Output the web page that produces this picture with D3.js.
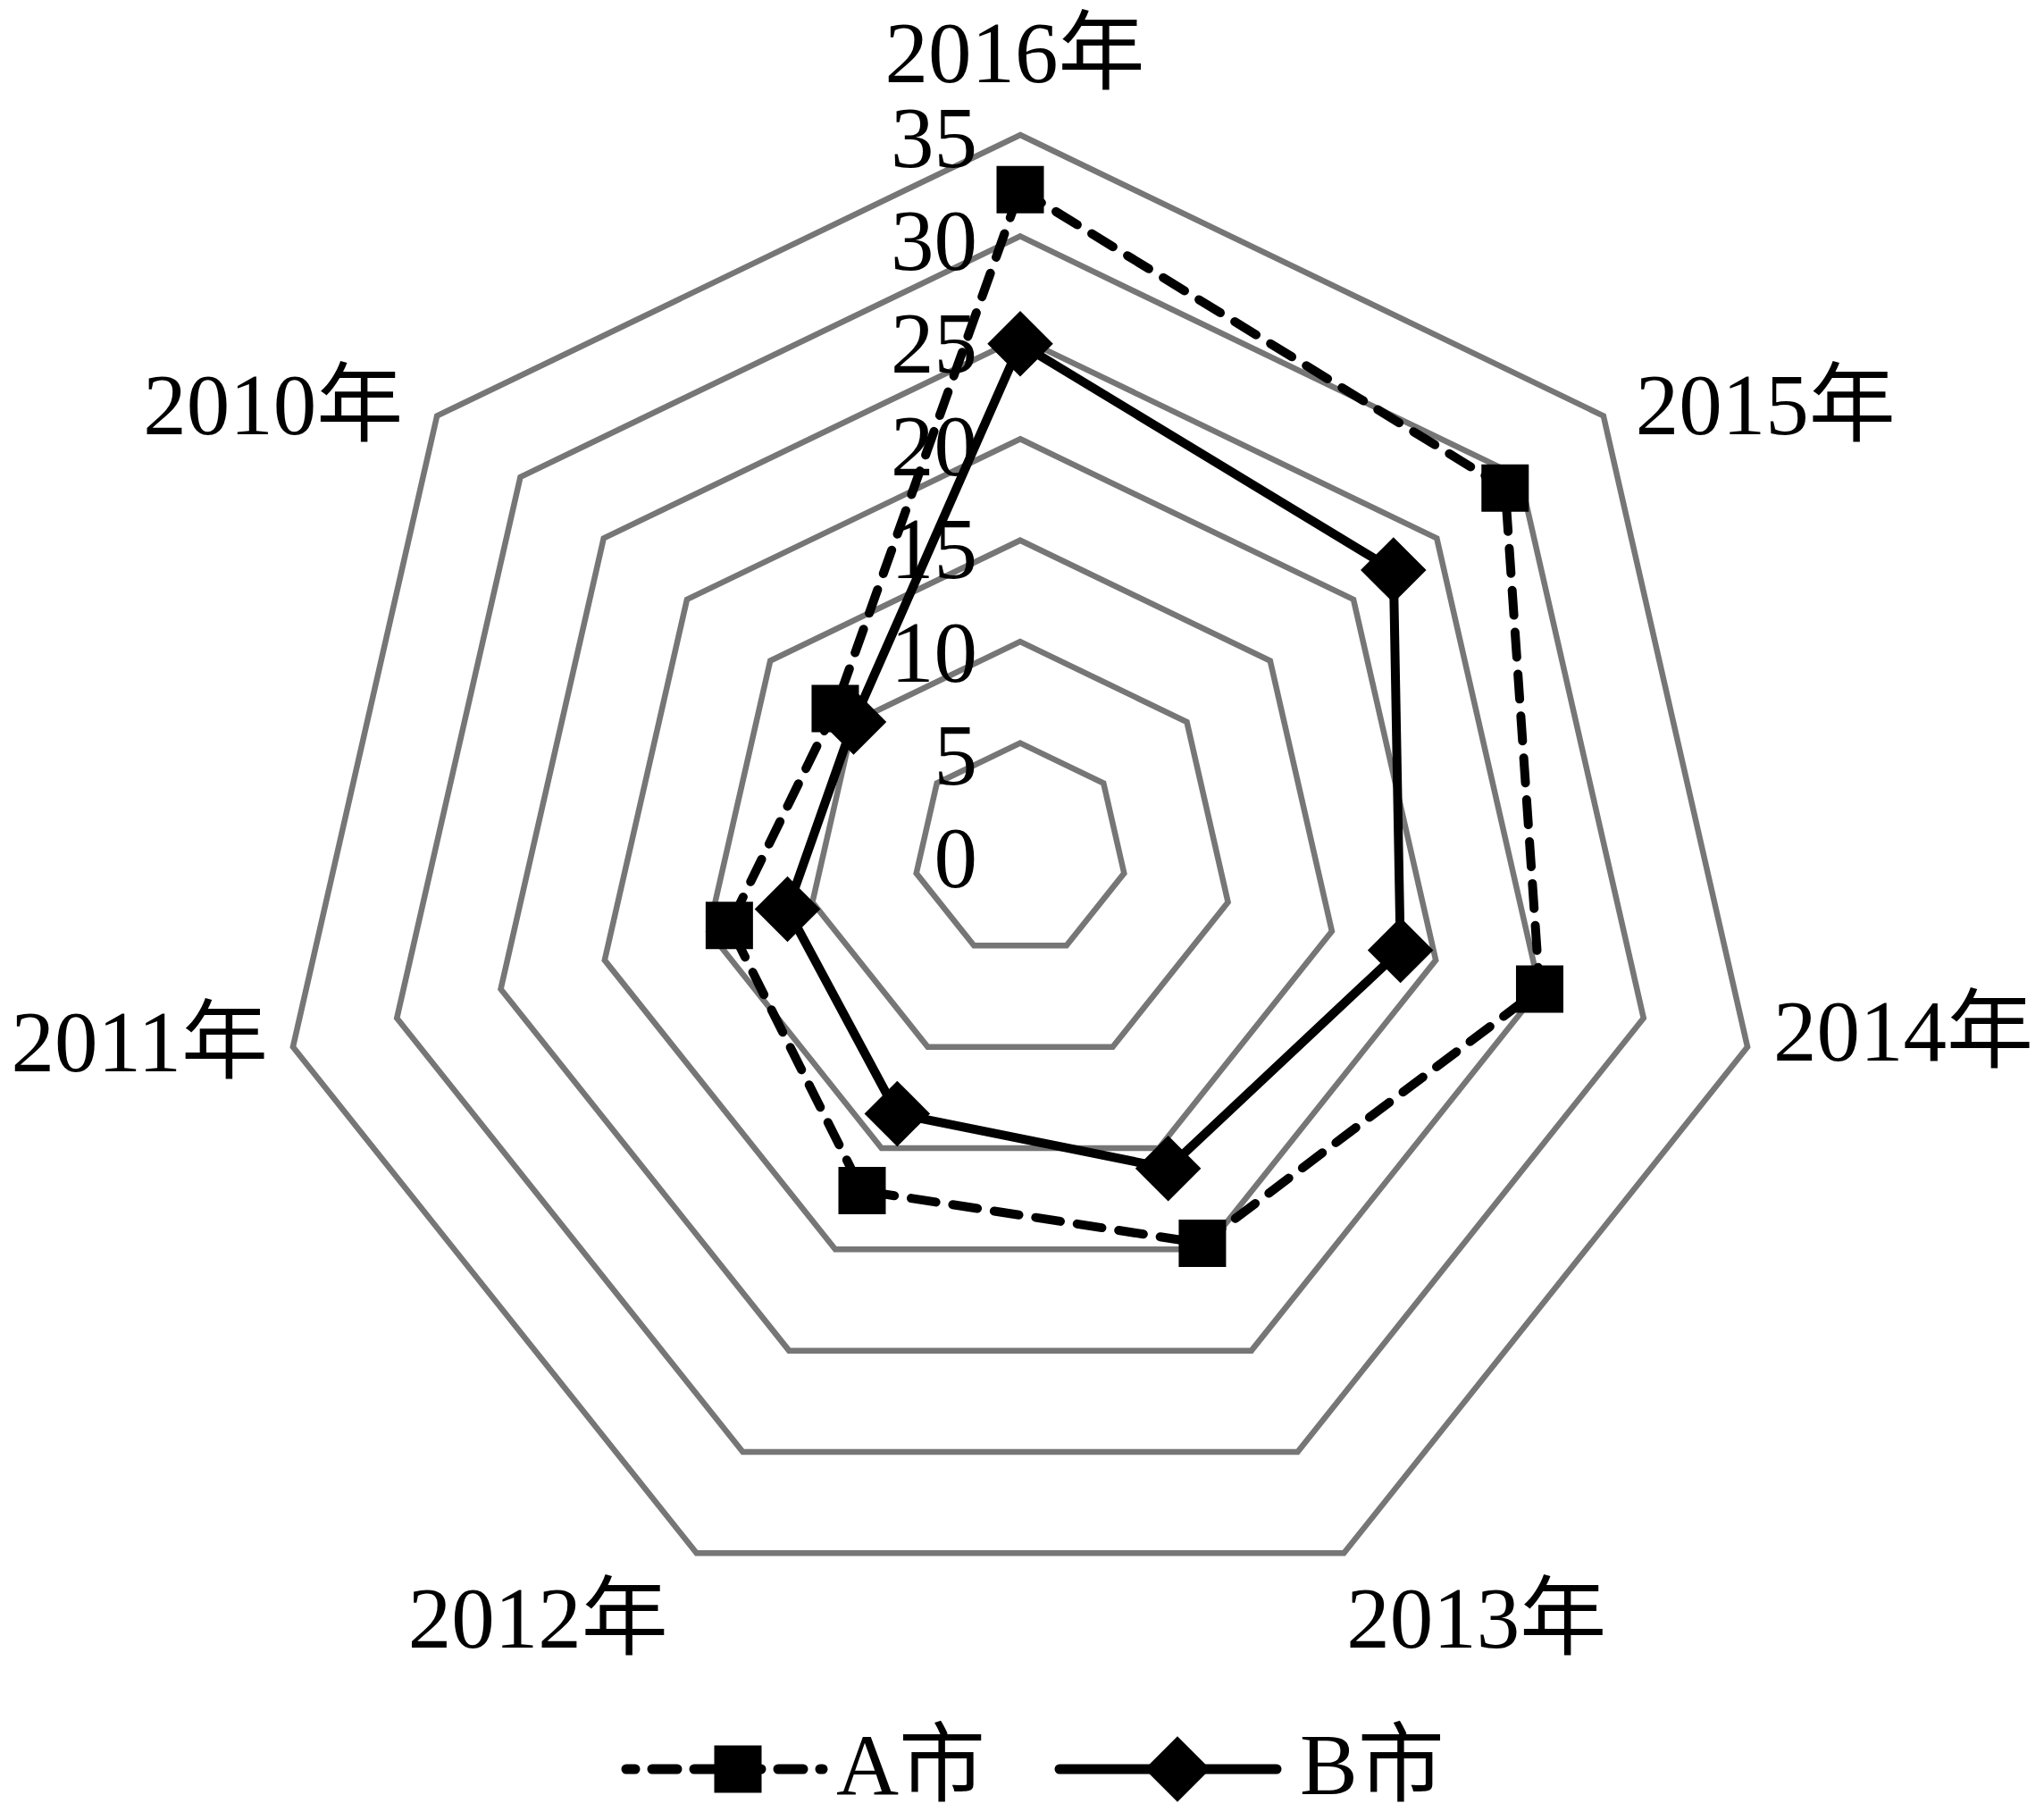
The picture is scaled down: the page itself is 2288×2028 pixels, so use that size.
<!DOCTYPE html>
<html>
<head>
<meta charset="utf-8">
<script src="https://cdn.jsdelivr.net/npm/d3@7"></script>
<style>
  body { margin: 0; background: #fff; }
  svg { display: block; }
  text { font-family: "Liberation Serif", "Times New Roman", "Noto Sans CJK SC", serif; fill: #000; }
</style>
</head>
<body>
<svg id="chart" width="2288" height="2028"></svg>
<script>
// ---------------- data ----------------
const categories = ["2016年", "2015年", "2014年", "2013年", "2012年", "2011年", "2010年"];
const seriesA = [32.3, 29.1, 25.0, 19.7, 17.1, 14.0, 11.1];
const seriesB = [24.7, 22.4, 18.3, 16.0, 13.3, 11.2, 10.0];
const seriesNames = ["A市", "B市"];
const tickValues = [0, 5, 10, 15, 20, 25, 30, 35];
const tickLabels = ["0", "5", "10", "15", "20", "25", "30", "35"];

// ---------------- layout ----------------
const svg = d3.select("#chart");
const W = 2288, H = 2028;
svg.append("rect").attr("width", W).attr("height", H).attr("fill", "#fff");

const cx = 1142;
const n = categories.length;
const rScale = d3.scaleLinear().domain([0, 35]).range([0, 835]);
const cyScale = d3.scaleLinear().domain([0, 35]).range([945, 986]);
const angle = i => i * 2 * Math.PI / n;
function pt(v, i) {
  const a = angle(i), r = rScale(v);
  return [cx + r * Math.sin(a), cyScale(v) - r * Math.cos(a)];
}
const closed = d3.line().curve(d3.curveLinearClosed);

// gridlines
const gGrid = svg.append("g");
tickValues.filter(v => v > 0).forEach(v => {
  gGrid.append("path")
    .attr("d", closed(d3.range(n).map(i => pt(v, i))))
    .attr("fill", "none")
    .attr("stroke", "#767676")
    .attr("stroke-width", 6.5)
    .attr("stroke-linejoin", "miter");
});

// tick labels
const labelY = d3.scaleLinear().domain([0, 35]).range([961, 154.5]);
svg.append("g").selectAll("text").data(tickValues).join("text")
  .attr("x", 1094)
  .attr("y", d => labelY(d) + 32)
  .attr("text-anchor", "end")
  .attr("font-size", 97)
  .text((d, i) => tickLabels[i]);

// category labels
function catPlace(i) {
  const [vx, vy] = pt(35, i);
  const s = Math.sin(angle(i)), c = Math.cos(angle(i));
  if (Math.abs(s) < 0.05) return { x: vx - 6, y: vy - 59, anchor: "middle" };
  if (c < -0.8) return { x: vx + (s > 0 ? 3 : -32), y: vy + 106, anchor: s > 0 ? "start" : "end" };
  if (c < 0) return { x: vx + (s > 0 ? 29 : -28), y: vy + (s > 0 ? 15 : 27), anchor: s > 0 ? "start" : "end" };
  return { x: vx + (s > 0 ? 36 : -38), y: vy + 21, anchor: s > 0 ? "start" : "end" };
}
svg.append("g").selectAll("text").data(categories).join("text")
  .attr("x", (d, i) => catPlace(i).x)
  .attr("y", (d, i) => catPlace(i).y)
  .attr("text-anchor", (d, i) => catPlace(i).anchor)
  .attr("font-size", 97)
  .text(d => d);

// series
const dash = "28,19";
const lineW = 10;
const squareSym = d3.symbol(d3.symbolSquare, 53 * 53);
const diamondSym = d3.symbol(d3.symbolSquare, 52 * 52);

const ptsA = seriesA.map((v, i) => pt(v, i));
const ptsB = seriesB.map((v, i) => pt(v, i));

const gA = svg.append("g");
gA.append("path").attr("d", closed(ptsA))
  .attr("fill", "none").attr("stroke", "#000").attr("stroke-width", lineW)
  .attr("stroke-dasharray", dash).attr("stroke-linecap", "round").attr("stroke-linejoin", "round");
gA.selectAll("path.m").data(ptsA).join("path").attr("class", "m")
  .attr("d", squareSym).attr("transform", d => `translate(${d[0]},${d[1]})`).attr("fill", "#000");

const gB = svg.append("g");
gB.append("path").attr("d", closed(ptsB))
  .attr("fill", "none").attr("stroke", "#000").attr("stroke-width", lineW)
  .attr("stroke-linejoin", "round");
gB.selectAll("path.m").data(ptsB).join("path").attr("class", "m")
  .attr("d", diamondSym).attr("transform", d => `translate(${d[0]},${d[1]}) rotate(45)`).attr("fill", "#000");

// legend
const leg = svg.append("g").attr("transform", "translate(701,1980)");
const legItems = [
  { name: seriesNames[0], x0: 0, x1: 220, mx: 125, tx: 235, dashed: true, diamond: false },
  { name: seriesNames[1], x0: 485, x1: 728, mx: 617, tx: 754, dashed: false, diamond: true }
];
legItems.forEach(it => {
  leg.append("line").attr("x1", it.x0).attr("x2", it.x1).attr("y1", 0).attr("y2", 0)
    .attr("stroke", "#000").attr("stroke-width", 11)
    .attr("stroke-linecap", "round")
    .attr("stroke-dasharray", it.dashed ? dash : null)
    .attr("stroke-dashoffset", it.dashed ? 18 : null);
  leg.append("path")
    .attr("d", it.diamond ? diamondSym() : squareSym())
    .attr("transform", `translate(${it.mx},0)` + (it.diamond ? " rotate(45)" : ""))
    .attr("fill", "#000");
  leg.append("text").attr("x", it.tx).attr("y", 28).attr("font-size", 97).text(it.name);
});
</script>
</body>
</html>
